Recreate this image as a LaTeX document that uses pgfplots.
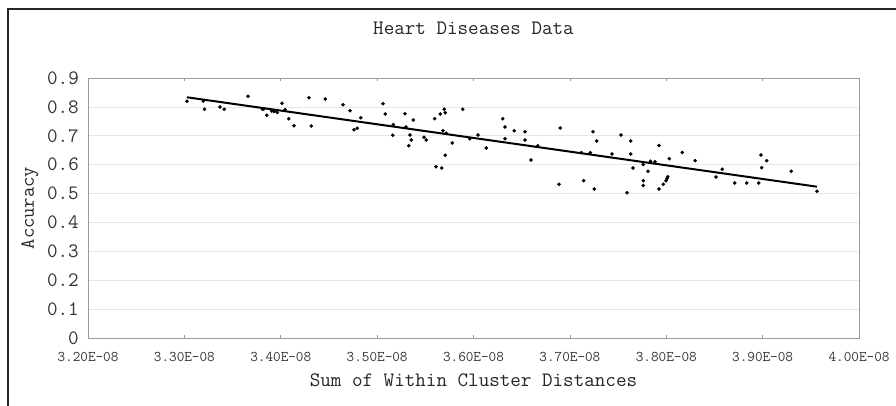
\documentclass[border=0pt]{standalone}
\usepackage{pgfplots}
\pgfplotsset{compat=1.18}
\usepackage{fontspec}
\renewcommand{\familydefault}{\ttdefault}
\definecolor{gridc}{HTML}{E6E6E6}
\definecolor{axc}{HTML}{9A9A9A}
\begin{document}
\ttfamily
\begin{tikzpicture}[font=\ttfamily]
\useasboundingbox (0pt,0pt) rectangle (896pt,-405pt);
\draw[line width=1.6pt, black!85] (908pt,-9pt) -- (8pt,-9pt) -- (8pt,-415pt);
\begin{axis}[
  at={(88pt,-338pt)}, anchor=south west,
  scale only axis, width=771pt, height=260pt,
  xmin=3.2, xmax=4.0, ymin=0, ymax=0.9,
  axis line style={axc, line width=0.8pt},
  xtick={3.2,3.3,3.4,3.5,3.6,3.7,3.8,3.9,4.0},
  xticklabels={3.20E-08,3.30E-08,3.40E-08,3.50E-08,3.60E-08,3.70E-08,3.80E-08,3.90E-08,4.00E-08},
  ytick={0,0.1,0.2,0.3,0.4,0.5,0.6,0.7,0.8,0.9},
  yticklabels={0,0.1,0.2,0.3,0.4,0.5,0.6,0.7,0.8,0.9},
  xtick align=inside, major tick length=3pt,
  x tick style={axc, line width=0.6pt},
  y tick style={draw=none},
  ymajorgrids, grid style={gridc, line width=0.8pt},
  xticklabel style={font=\ttfamily\fontsize{14.8}{15}\selectfont, anchor=north, inner sep=0pt, yshift=-14pt, text=black!80},
  yticklabel style={font=\ttfamily\fontsize{20.5}{21}\selectfont, anchor=east, inner sep=0pt, xshift=-9pt, text=black!80},
  title={Heart Diseases Data},
  title style={font=\ttfamily\fontsize{20.5}{21}\selectfont, at={(axis description cs:0.5,1.169)}, anchor=center, inner sep=0pt, text=black!85},
  xlabel={Sum of Within Cluster Distances},
  xlabel style={font=\ttfamily\fontsize{20.5}{21}\selectfont, at={(axis description cs:0.5,-0.162)}, anchor=center, inner sep=0pt, text=black!85},
  ylabel={Accuracy},
  ylabel style={font=\ttfamily\fontsize{20}{21}\selectfont, at={(axis description cs:-0.0752,0.5)}, anchor=center, inner sep=0pt, text=black!85},
  clip=false,
]
\addplot[only marks, mark=*, mark size=1.6pt, black] coordinates {
(3.3027,0.8195) (3.3196,0.8205) (3.3209,0.7921) (3.3370,0.7997) (3.3414,0.7918)
(3.3660,0.8371) (3.3811,0.7918) (3.3825,0.7930) (3.3854,0.7710) (3.3906,0.7859)
(3.3930,0.7841) (3.3964,0.7807) (3.4013,0.8125) (3.4046,0.7904) (3.4083,0.7592)
(3.4137,0.7346) (3.4293,0.8319) (3.4317,0.7339) (3.4462,0.8274) (3.4646,0.8077)
(3.4719,0.7869) (3.4760,0.7211) (3.4794,0.7260) (3.4830,0.7627) (3.5061,0.8111)
(3.5085,0.7755) (3.5168,0.7385) (3.5162,0.7017) (3.5289,0.7765) (3.5300,0.7305)
(3.5328,0.6657) (3.5341,0.7028) (3.5355,0.6855) (3.5375,0.7547) (3.5486,0.6948)
(3.5510,0.6855) (3.5597,0.7592) (3.5611,0.5930) (3.5655,0.7755) (3.5670,0.5885)
(3.5683,0.7177) (3.5697,0.7918) (3.5707,0.7800) (3.5707,0.6325) (3.5718,0.7087)
(3.5780,0.6751) (3.5888,0.7918) (3.5961,0.6900) (3.6047,0.7028) (3.6133,0.6578)
(3.6303,0.7592) (3.6327,0.7305) (3.6327,0.6900) (3.6423,0.7177) (3.6534,0.7142)
(3.6534,0.6855) (3.6597,0.6162) (3.6666,0.6657) (3.6887,0.5321) (3.6901,0.7270)
(3.7119,0.6415) (3.7143,0.5446) (3.7212,0.6415) (3.7240,0.7142) (3.7253,0.5158)
(3.7278,0.6820) (3.7437,0.6370) (3.7530,0.7028) (3.7593,0.5030) (3.7631,0.6820)
(3.7631,0.6370) (3.7655,0.5885) (3.7762,0.6007) (3.7762,0.5446) (3.7762,0.5280)
(3.7811,0.5771) (3.7837,0.6121) (3.7883,0.6100) (3.7925,0.6664) (3.7925,0.5158)
(3.7969,0.5321) (3.7997,0.5446) (3.8008,0.5522) (3.8015,0.5584) (3.8032,0.6207)
(3.8167,0.6422) (3.8300,0.6138) (3.8516,0.5574) (3.8581,0.5840) (3.8710,0.5366)
(3.8835,0.5366) (3.8959,0.5366) (3.8983,0.6335) (3.8990,0.5896) (3.9042,0.6138)
(3.9297,0.5771) (3.9564,0.5079)
};
\addplot[black, line width=2pt] coordinates {(3.3027,0.8333) (3.9564,0.5238)};
\end{axis}
\end{tikzpicture}
\end{document}
